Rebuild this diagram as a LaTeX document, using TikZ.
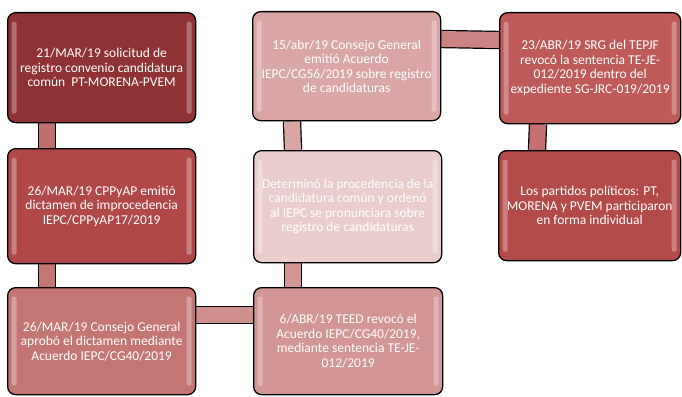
\documentclass[tikz,border=0pt]{standalone}
\usepackage{fontspec}
\setmainfont{Carlito}
\usetikzlibrary{calc,backgrounds}

\definecolor{solred}{HTML}{8E3234}
\definecolor{dictred}{HTML}{B04848}
\definecolor{cgred}{HTML}{C47673}
\definecolor{teedred}{HTML}{D29694}
\definecolor{procred}{HTML}{EBCDCD}
\definecolor{regred}{HTML}{DAA5A5}
\definecolor{srgred}{HTML}{BE5A58}
\definecolor{indred}{HTML}{B24A48}

\tikzset{
  evbox/.style={draw=black, line width=1.3pt, rounded corners=8pt, fill=#1,
    text=white, anchor=north west, align=center, inner sep=1pt,
    font=\fontsize{13.5}{14.5}\selectfont,
    path picture={
      \fill[white, opacity=.3, rounded corners=2pt]
        ($(path picture bounding box.south west)+(4pt,9pt)$) rectangle ($(path picture bounding box.north west)+(9pt,-9pt)$)
        ($(path picture bounding box.south east)+(-4pt,9pt)$) rectangle ($(path picture bounding box.north east)+(-9pt,-9pt)$);
    }},
  conn/.style={draw=black, line width=1.2pt, double=#1, double distance=16pt}
}

\begin{document}
\begin{tikzpicture}
    \useasboundingbox (0,0) rectangle (682pt,-396pt);
    % Solicitud
    \node[evbox=solred, minimum width=188pt, minimum height=110pt] (sol) at (7pt,-12pt)
      {21/MAR/19 solicitud de\\registro convenio candidatura\\común\ \ PT-MORENA-PVEM};
    % Dictamen
    \node[evbox=dictred, minimum width=188pt, minimum height=115pt] (dict) at (7pt,-148pt)
      {26/MAR/19 CPPyAP emitió\\dictamen de improcedencia\\IEPC/CPPyAP17/2019};
    % Acuerdo CG40
    \node[evbox=cgred, minimum width=188pt, minimum height=107pt] (cg40) at (7pt,-287pt)
      {26/MAR/19 Consejo General\\aprobó el dictamen mediante\\Acuerdo IEPC/CG40/2019};
    % TEED
    \node[evbox=teedred, minimum width=189pt, minimum height=107pt] (teed) at (253pt,-287pt)
      {6/ABR/19 TEED revocó el\\Acuerdo IEPC/CG40/2019,\\mediante sentencia TE-JE-\\012/2019};
    % Procedencia
    \node[evbox=procred, minimum width=188pt, minimum height=112pt] (proc) at (253pt,-150pt)
      {Determinó la procedencia de la\\candidatura común y ordenó\\al IEPC se pronunciara sobre\\registro de candidaturas};
    % Acuerdo CG56
    \node[evbox=regred, minimum width=188pt, minimum height=109pt] (cg56) at (252pt,-11pt)
      {15/abr/19 Consejo General\\emitió Acuerdo\\IEPC/CG56/2019 sobre registro\\de candidaturas};
    % SRG
    \node[evbox=srgred, minimum width=181pt, minimum height=111pt] (srg) at (499pt,-12pt)
      {23/ABR/19 SRG del TEPJF\\revocó la sentencia TE-JE-\\012/2019 dentro del\\expediente SG-JRC-019/2019};
    % Forma individual
    \node[evbox=indred, minimum width=182pt, minimum height=110pt] (ind) at (498pt,-150pt)
      {Los partidos políticos: PT,\\MORENA y PVEM participaron\\en forma individual};

    % Connectors
    \begin{scope}[on background layer]
      \draw[conn=cgred!85!dictred] ($(sol.south west)+(40pt,0)$) -- ($(dict.north west)+(40pt,0)$);
      \draw[conn=cgred] ($(dict.south west)+(40pt,0)$) -- ($(cg40.north west)+(40pt,0)$);
      \draw[conn=teedred!80!cgred] ($(cg40.north east)+(0,-28pt)$) -- ($(teed.north west)+(0,-28pt)$);
      \draw[conn=teedred] ($(teed.north west)+(40pt,0)$) -- ($(proc.south west)+(40pt,0)$);
      \draw[conn=regred] ($(proc.north west)+(40pt,0)$) -- ($(cg56.south west)+(40pt,0)$);
      \draw[conn=teedred!70!srgred] ($(cg56.north east)+(0,-28pt)$) -- ($(srg.north west)+(0,-28pt)$);
      \draw[conn=cgred!80!srgred] ($(srg.south west)+(39pt,0)$) -- ($(ind.north west)+(39pt,0)$);
    \end{scope}
\end{tikzpicture}
\end{document}
